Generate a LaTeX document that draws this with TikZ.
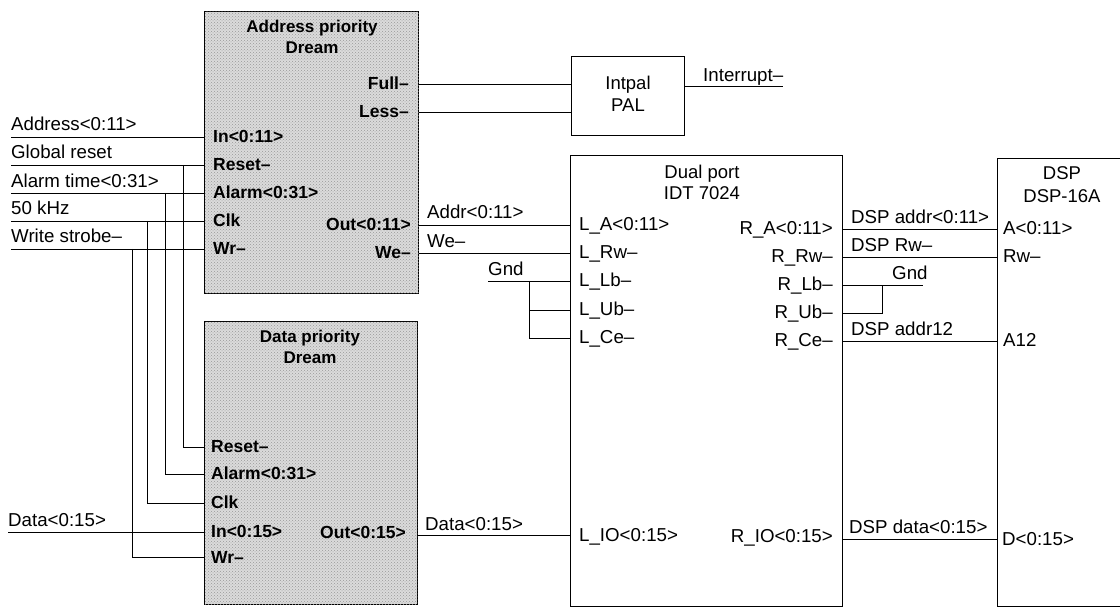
\documentclass[tikz,border=0pt]{standalone}
\usepackage{fontspec}
\usetikzlibrary{patterns}
\setmainfont{Liberation Sans}
\begin{document}
\begin{tikzpicture}[
        x=1pt, y=-1pt,
        every node/.style={font=\fontsize{18.7}{22}\selectfont},
        shadebox/.style={rectangle, draw=black, fill=black!14, postaction={pattern=crosshatch dots, pattern color=black!40}, line width=1.2pt, anchor=north west, inner sep=0pt},
        plainbox/.style={rectangle, draw=black, line width=1pt, anchor=north west, inner sep=0pt},
        title/.style={align=center, inner sep=0pt},
        pinL/.style={anchor=west, inner sep=0pt, text height=12pt, text depth=0pt},
        pinR/.style={anchor=east, inner sep=0pt, text height=12pt, text depth=0pt},
        boldL/.style={pinL, font=\fontsize{17.5}{20}\selectfont\bfseries},
        boldR/.style={pinR, font=\fontsize{17.5}{20}\selectfont\bfseries},
        wlabel/.style={anchor=base west, inner sep=0pt},
        wire/.style={line width=0.9pt}
    ]
        \useasboundingbox (0,0) rectangle (1120,609);

        % boxes
        \node[shadebox, minimum width=214pt, minimum height=282pt] (addrbox) at (204,11) {};
        \node[shadebox, minimum width=213pt, minimum height=283pt] (databox) at (204,321) {};
        \node[plainbox, minimum width=113pt, minimum height=79pt] (intpal) at (571,56) {};
        \node[plainbox, minimum width=272pt, minimum height=451pt] (dual) at (570,155) {};
        \node[plainbox, minimum width=135pt, minimum height=448pt] (dsp) at (997,158) {};

        % titles
        \node[title, font=\fontsize{17}{21}\selectfont\bfseries] (addrtitle) at (312,37) {Address priority\\Dream};
        \node[title, font=\fontsize{17}{21}\selectfont\bfseries] (datatitle) at (310,347) {Data priority\\Dream};
        \node[title, font=\fontsize{18.5}{22}\selectfont] (intpaltitle) at (628,94) {Intpal\\PAL};
        \node[title, font=\fontsize{18.5}{21}\selectfont] (dualtitle) at (702,182) {Dual port\\IDT 7024};
        \node[title, font=\fontsize{18.5}{23}\selectfont] (dsptitle) at (1062,185) {DSP\\DSP-16A};

        % pins, address block
        \node[boldL] (aIn) at (213,137) {In<0:11>};
        \node[boldL] (aReset) at (213,165) {Reset--};
        \node[boldL] (aAlarm) at (213,193) {Alarm<0:31>};
        \node[boldL] (aClk) at (213,221) {Clk};
        \node[boldL] (aWr) at (213,249) {Wr--};
        \node[boldR] (aFull) at (409,84) {Full--};
        \node[boldR] (aLess) at (409,112) {Less--};
        \node[boldR] (aOut) at (411,225) {Out<0:11>};
        \node[boldR] (aWe) at (411,253) {We--};

        % pins, data block
        \node[boldL] (dReset) at (211,447) {Reset--};
        \node[boldL] (dAlarm) at (211,474) {Alarm<0:31>};
        \node[boldL] (dClk) at (211,503) {Clk};
        \node[boldL] (dIn) at (211,532) {In<0:15>};
        \node[boldL] (dWr) at (211,557) {Wr--};
        \node[boldR] (dOut) at (406,533) {Out<0:15>};

        % pins, dual port
        \node[pinL] (lA) at (579,225) {L\_A<0:11>};
        \node[pinL] (lRw) at (579,253) {L\_Rw--};
        \node[pinL] (lLb) at (579,281) {L\_Lb--};
        \node[pinL] (lUb) at (579,310) {L\_Ub--};
        \node[pinL] (lCe) at (579,338) {L\_Ce--};
        \node[pinL] (lIO) at (579,535) {L\_IO<0:15>};
        \node[pinR] (rA) at (833,229) {R\_A<0:11>};
        \node[pinR] (rRw) at (833,257) {R\_Rw--};
        \node[pinR] (rLb) at (833,285) {R\_Lb--};
        \node[pinR] (rUb) at (833,313) {R\_Ub--};
        \node[pinR] (rCe) at (833,341) {R\_Ce--};
        \node[pinR] (rIO) at (833,537) {R\_IO<0:15>};

        % pins, DSP
        \node[pinL] (dspA) at (1003,229) {A<0:11>};
        \node[pinL] (dspRw) at (1003,257) {Rw--};
        \node[pinL] (dspA12) at (1003,341) {A12};
        \node[pinL] (dspD) at (1002,539) {D<0:15>};

        % free ends
        \coordinate (cAddress) at (11,137);
        \coordinate (cGlobal) at (11,165);
        \coordinate (cAlarm) at (11,193);
        \coordinate (cClk) at (11,221);
        \coordinate (cWrite) at (11,249);
        \coordinate (cData) at (8,532);
        \coordinate (cIntr) at (783,86);
        \coordinate (cGndL) at (488,281);
        \coordinate (cGndR) at (923,285);

        % inputs
        \draw[wire] (cAddress) -- (cAddress -| addrbox.west);
        \draw[wire] (cGlobal) -- (cGlobal -| addrbox.west);
        \draw[wire] (cAlarm) -- (cAlarm -| addrbox.west);
        \draw[wire] (cClk) -- (cClk -| addrbox.west);
        \draw[wire] (cWrite) -- (cWrite -| addrbox.west);
        \draw[wire] (cData) -- (cData -| databox.west);

        % shared lines into data block
        \draw[wire] (183,165) |- (dReset -| databox.west);
        \draw[wire] (165,193) |- (dAlarm -| databox.west);
        \draw[wire] (147,221) |- (dClk -| databox.west);
        \draw[wire] (132,249) |- (dWr -| databox.west);

        % address block to others
        \draw[wire] (aFull -| addrbox.east) -- (aFull -| intpal.west);
        \draw[wire] (aLess -| addrbox.east) -- (aLess -| intpal.west);
        \draw[wire] (cIntr -| intpal.east) -- (cIntr);
        \draw[wire] (aOut -| addrbox.east) -- (aOut -| dual.west);
        \draw[wire] (aWe -| addrbox.east) -- (aWe -| dual.west);
        \draw[wire] (lIO -| databox.east) -- (lIO -| dual.west);

        % ground, left
        \draw[wire] (cGndL) -- (cGndL -| dual.west);
        \draw[wire] (529,281) |- (lUb -| dual.west);
        \draw[wire] (529,310) |- (lCe -| dual.west);

        % dual port to DSP
        \draw[wire] (rA -| dual.east) -- (rA -| dsp.west);
        \draw[wire] (rRw -| dual.east) -- (rRw -| dsp.west);
        \draw[wire] (rLb -| dual.east) -- (cGndR);
        \draw[wire] (rUb -| dual.east) -| (882,285);
        \draw[wire] (rCe -| dual.east) -- (rCe -| dsp.west);
        \draw[wire] (dspD -| dual.east) -- (dspD -| dsp.west);

        % wire labels
        \node[wlabel] (tAddress) at (11,131) {Address<0:11>};
        \node[wlabel] (tGlobal) at (11,159) {Global reset};
        \node[wlabel] (tAlarm) at (11,188) {Alarm time<0:31>};
        \node[wlabel] (tClk) at (11,215) {50 kHz};
        \node[wlabel] (tWrite) at (11,243) {Write strobe--};
        \node[wlabel] (tData) at (8,526) {Data<0:15>};
        \node[wlabel] (tInterrupt) at (703,82) {Interrupt--};
        \node[wlabel] (tAddr) at (427,219) {Addr<0:11>};
        \node[wlabel] (tWe) at (427,248) {We--};
        \node[wlabel] (tGndL) at (488,276) {Gnd};
        \node[wlabel] (tDataOut) at (425,530) {Data<0:15>};
        \node[wlabel] (tDspAddr) at (851,224) {DSP addr<0:11>};
        \node[wlabel] (tDspRw) at (851,252) {DSP Rw--};
        \node[wlabel] (tGndR) at (892,280) {Gnd};
        \node[wlabel] (tDspA12) at (851,336) {DSP addr12};
        \node[wlabel] (tDspData) at (849,534) {DSP data<0:15>};
    \end{tikzpicture}
\end{document}
